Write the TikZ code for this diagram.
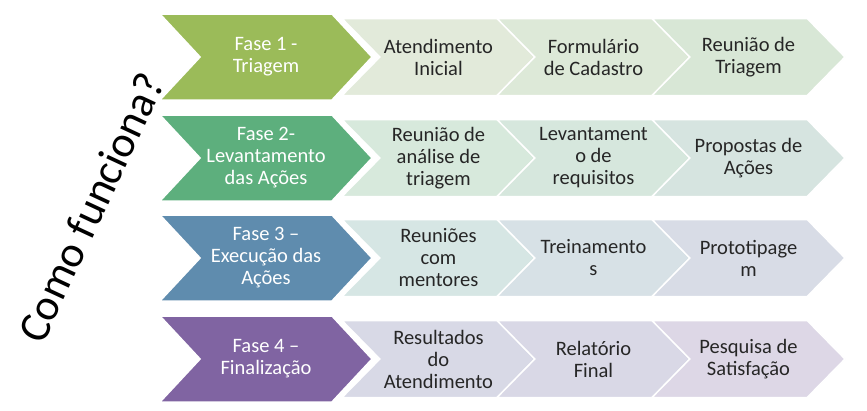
\documentclass[tikz,border=0pt]{standalone}
\usepackage{fontspec}
\setmainfont{Carlito}
\usetikzlibrary{shapes.symbols}
\definecolor{fase1}{HTML}{9BBB59}
\definecolor{fase2}{HTML}{5DAF7D}
\definecolor{fase3}{HTML}{5F8CAE}
\definecolor{fase4}{HTML}{8064A2}
\definecolor{texto}{HTML}{262626}

\begin{document}
\begin{tikzpicture}[x=1pt,y=-1pt,
    fase/.style={signal,signal from=west,signal to=east,signal pointer angle=94,
      minimum width=212pt,minimum height=86pt,inner sep=0pt,draw=white,line width=1.5pt,
      text=white,align=center,font=\fontsize{20.5}{22}\selectfont},
    etapa/.style={fase,minimum width=193pt,minimum height=77pt,signal pointer angle=91,text=texto}]
  \useasboundingbox (0,0) rectangle (867,410);
  % titulo
  \node[rotate=65,font=\fontsize{44}{52}\selectfont] (titulo) at (91,207) {Como funciona?};
  % fase 1
  \node[fase,fill=fase1] (f1) at (266,57) {Fase 1 -\\Triagem};
  \node[etapa,fill={rgb,255:red,226;green,234;blue,218}] (f1a) at (438.5,57) {Atendimento\\Inicial};
  \node[etapa,fill={rgb,255:red,221;green,233;blue,216}] (f1b) at (593.5,57) {Formulário\\de Cadastro};
  \node[etapa,fill={rgb,255:red,216;green,231;blue,214}] (f1c) at (748.5,57) {Reunião de\\Triagem};
  % fase 2
  \node[fase,fill=fase2] (f2) at (266,158) {Fase 2-\\Levantamento\\das Ações};
  \node[etapa,fill={rgb,255:red,215;green,233;blue,220}] (f2a) at (438.5,158) {Reunião de\\análise de\\triagem};
  \node[etapa,fill={rgb,255:red,214;green,231;blue,221}] (f2b) at (593.5,158) {Levantament\\o de\\requisitos};
  \node[etapa,fill={rgb,255:red,214;green,228;blue,224}] (f2c) at (748.5,158) {Propostas de\\Ações};
  % fase 3
  \node[fase,fill=fase3] (f3) at (266,258) {Fase 3 --\\Execução das\\Ações};
  \node[etapa,fill={rgb,255:red,214;green,230;blue,228}] (f3a) at (438.5,258) {Reuniões\\com\\mentores};
  \node[etapa,fill={rgb,255:red,215;green,225;blue,230}] (f3b) at (593.5,258) {Treinamento\\s};
  \node[etapa,fill={rgb,255:red,216;green,220;blue,230}] (f3c) at (748.5,258) {Prototipage\\m};
  % fase 4
  \node[fase,fill=fase4] (f4) at (266,359) {Fase 4 --\\Finalização};
  \node[etapa,fill={rgb,255:red,216;green,217;blue,230}] (f4a) at (438.5,359) {Resultados\\do\\Atendimento};
  \node[etapa,fill={rgb,255:red,217;green,216;blue,230}] (f4b) at (593.5,359) {Relatório\\Final};
  \node[etapa,fill={rgb,255:red,221;green,215;blue,230}] (f4c) at (748.5,359) {Pesquisa de\\Satisfação};
\end{tikzpicture}
\end{document}
